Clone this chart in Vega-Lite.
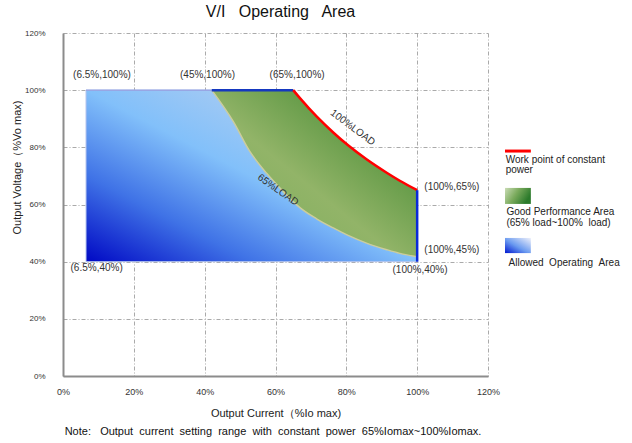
{
  "$schema": "https://vega.github.io/schema/vega-lite/v6.json",
  "width": 425,
  "height": 343,
  "autosize": {"type": "none"},
  "padding": {"left": 63, "top": 33, "right": 144, "bottom": 67},
  "background": "white",
  "config": {
    "view": {"stroke": null},
    "font": "Liberation Sans",
    "text": {"font": "Liberation Sans"},
    "axis": {
      "domainColor": "#8c8c8c",
      "domainWidth": 2,
      "gridColor": "#aaaaaa",
      "gridDash": [4, 2, 1, 2],
      "gridWidth": 1,
      "ticks": false,
      "tickSize": 0,
      "labelFlush": false,
      "labelFont": "Liberation Sans",
      "labelColor": "#333333",
      "titleFont": "Liberation Sans",
      "titleFontWeight": "normal",
      "titleFontSize": 11,
      "titleColor": "#222222"
    }
  },
  "title": {
    "text": "V/I \u00a0 Operating \u00a0 Area",
    "fontSize": 16,
    "font": "Liberation Sans",
    "fontWeight": "normal",
    "color": "#111111",
    "anchor": "middle",
    "frame": "group",
    "offset": 9,
    "dx": 5
  },
  "datasets": {
    "curve": [
      {"I": 6.5, "vmax": 100, "vlow": null, "vmin": 40},
      {"I": 42, "vmax": 100, "vlow": 100, "vmin": 40},
      {"I": 48.1, "vmax": 100, "vlow": 89, "vmin": 40},
      {"I": 52.8, "vmax": 100, "vlow": 78.5, "vmin": 40},
      {"I": 57.5, "vmax": 100, "vlow": 70.9, "vmin": 40},
      {"I": 62.2, "vmax": 100, "vlow": 64.5, "vmin": 40},
      {"I": 65, "vmax": 100, "vlow": 61, "vmin": 40},
      {"I": 66.9, "vmax": 97.2, "vlow": 58.9, "vmin": 40},
      {"I": 71.6, "vmax": 90.8, "vlow": 55.0, "vmin": 40},
      {"I": 76.3, "vmax": 85.2, "vlow": 51.8, "vmin": 40},
      {"I": 80.5, "vmax": 80.7, "vlow": 49.2, "vmin": 40},
      {"I": 85.7, "vmax": 75.8, "vlow": 46.5, "vmin": 40},
      {"I": 91.4, "vmax": 71.1, "vlow": 44.2, "vmin": 40},
      {"I": 95.1, "vmax": 68.3, "vlow": 42.9, "vmin": 40},
      {"I": 100, "vmax": 65.0, "vlow": 41.7, "vmin": 40}
    ],
    "labels": [
      {"t": "(6.5%,100%)", "x": 11.0, "y": 105.3},
      {"t": "(45%,100%)", "x": 40.8, "y": 105.3},
      {"t": "(65%,100%)", "x": 66.1, "y": 105.3},
      {"t": "(6.5%,40%)", "x": 9.5, "y": 37.9},
      {"t": "(100%,40%)", "x": 100.8, "y": 37.1},
      {"t": "(100%,65%)", "x": 109.8, "y": 66.1},
      {"t": "(100%,45%)", "x": 109.8, "y": 44.1}
    ],
    "loads": [
      {"t": "100%LOAD", "x": 81.8, "y": 86.9},
      {"t": "65%LOAD", "x": 60.7, "y": 65.1}
    ],
    "legendText": [
      {"t": "Work point of constant", "x": 125.0, "y": 75.6},
      {"t": "power", "x": 125.0, "y": 71.9},
      {"t": "Good Performance Area", "x": 125.2, "y": 57.4},
      {"t": "(65% load~100% \u00a0load)", "x": 125.2, "y": 53.7},
      {"t": "Allowed \u00a0Operating \u00a0Area", "x": 125.8, "y": 39.5}
    ],
    "swatch": [
      {"k": "power", "x": 124.8, "x2": 132.1, "y": 78.7, "y2": 78.7},
      {"k": "good", "x": 124.8, "x2": 132.1, "y": 60.2, "y2": 65.8},
      {"k": "allowed", "x": 124.8, "x2": 132.1, "y": 43.0, "y2": 48.3}
    ],
    "note": [
      {"t": "Note: \u00a0 Output \u00a0current \u00a0setting \u00a0range \u00a0with \u00a0constant \u00a0power \u00a065%Iomax~100%Iomax.", "x": 59.3, "y": -19.6}
    ]
  },
  "encoding": {
    "x": {
      "type": "quantitative",
      "scale": {"domain": [0, 120], "nice": false},
      "axis": {
        "title": "Output Current（%Io max)",
        "values": [0, 20, 40, 60, 80, 100, 120],
        "labelExpr": "datum.value + '%'",
        "labelFontSize": 9,
        "labelPadding": 11,
        "titlePadding": 11
      }
    },
    "y": {
      "type": "quantitative",
      "scale": {"domain": [0, 120], "nice": false},
      "axis": {
        "title": "Output Voltage（%Vo max)",
        "values": [0, 20, 40, 60, 80, 100, 120],
        "labelExpr": "datum.value + '%'",
        "labelFontSize": 8,
        "labelPadding": 18,
        "titlePadding": 2,
        "titleY": 134
      }
    }
  },
  "layer": [
    {
      "data": {"name": "curve"},
      "mark": {
        "type": "area",
        "interpolate": "monotone",
        "stroke": "#b4c4ee",
        "strokeWidth": 1,
        "color": {
          "gradient": "linear", "x1": 0, "y1": 1, "x2": 1, "y2": 0,
          "stops": [
            {"offset": 0, "color": "#0008c4"},
            {"offset": 0.25, "color": "#3f72e6"},
            {"offset": 0.5, "color": "#82c0fa"},
            {"offset": 0.75, "color": "#a9cbf2"},
            {"offset": 1, "color": "#c6d8ee"}
          ]
        }
      },
      "encoding": {
        "x": {"field": "I"},
        "y": {"field": "vmax"},
        "y2": {"field": "vmin"}
      }
    },
    {
      "data": {"name": "curve"},
      "transform": [{"filter": "datum.vlow != null"}],
      "mark": {
        "type": "area",
        "interpolate": "monotone",
        "color": {
          "gradient": "linear", "x1": 0, "y1": 1, "x2": 1, "y2": 0,
          "stops": [
            {"offset": 0, "color": "#78ac58"},
            {"offset": 0.45, "color": "#92b468"},
            {"offset": 0.68, "color": "#6a9e4c"},
            {"offset": 1, "color": "#4a8836"}
          ]
        }
      },
      "encoding": {
        "x": {"field": "I"},
        "y": {"field": "vmax"},
        "y2": {"field": "vlow"}
      }
    },
    {
      "data": {"name": "curve"},
      "transform": [{"filter": "datum.vlow != null"}],
      "mark": {"type": "line", "interpolate": "monotone", "color": "#cccd9c", "strokeWidth": 1.5},
      "encoding": {"x": {"field": "I"}, "y": {"field": "vlow"}}
    },
    {
      "data": {"name": "curve"},
      "transform": [{"filter": "datum.I <= 42"}],
      "mark": {"type": "line", "color": "#98a6e4", "strokeWidth": 1.5},
      "encoding": {"x": {"field": "I"}, "y": {"field": "vmax"}}
    },
    {
      "data": {"name": "curve"},
      "transform": [{"filter": "datum.I >= 42 && datum.I <= 65"}],
      "mark": {"type": "line", "color": "#1538c0", "strokeWidth": 2.5},
      "encoding": {"x": {"field": "I"}, "y": {"field": "vmax"}}
    },
    {
      "data": {"name": "curve"},
      "transform": [{"filter": "datum.I >= 65"}],
      "mark": {"type": "line", "interpolate": "monotone", "color": "#ff0000", "strokeWidth": 2.5},
      "encoding": {"x": {"field": "I"}, "y": {"field": "vmax"}}
    },
    {
      "data": {"name": "curve"},
      "transform": [{"filter": "datum.I == 100"}],
      "mark": {"type": "rule", "color": "#0a2ad8", "strokeWidth": 2.5},
      "encoding": {"x": {"field": "I"}, "y": {"field": "vmin"}, "y2": {"field": "vmax"}}
    },
    {
      "data": {"name": "labels"},
      "mark": {"type": "text", "fontSize": 10, "color": "#333333"},
      "encoding": {"x": {"field": "x"}, "y": {"field": "y"}, "text": {"field": "t"}}
    },
    {
      "data": {"name": "loads"},
      "transform": [{"filter": "datum.t == '100%LOAD'"}],
      "mark": {"type": "text", "fontSize": 10, "color": "#333333", "angle": 37},
      "encoding": {"x": {"field": "x"}, "y": {"field": "y"}, "text": {"field": "t"}}
    },
    {
      "data": {"name": "loads"},
      "transform": [{"filter": "datum.t == '65%LOAD'"}],
      "mark": {"type": "text", "fontSize": 10, "color": "#333333", "angle": 35},
      "encoding": {"x": {"field": "x"}, "y": {"field": "y"}, "text": {"field": "t"}}
    },
    {
      "data": {"name": "swatch"},
      "transform": [{"filter": "datum.k == 'power'"}],
      "mark": {"type": "rule", "color": "#ff0000", "strokeWidth": 3},
      "encoding": {"x": {"field": "x"}, "x2": {"field": "x2"}, "y": {"field": "y"}}
    },
    {
      "data": {"name": "swatch"},
      "transform": [{"filter": "datum.k == 'good'"}],
      "mark": {
        "type": "rect",
        "color": {
          "gradient": "linear", "x1": 0, "y1": 0, "x2": 1, "y2": 0.4,
          "stops": [
            {"offset": 0, "color": "#cadcb6"},
            {"offset": 0.5, "color": "#7aaa5c"},
            {"offset": 1, "color": "#2b7a2b"}
          ]
        }
      },
      "encoding": {"x": {"field": "x"}, "x2": {"field": "x2"}, "y": {"field": "y"}, "y2": {"field": "y2"}}
    },
    {
      "data": {"name": "swatch"},
      "transform": [{"filter": "datum.k == 'allowed'"}],
      "mark": {
        "type": "rect",
        "color": {
          "gradient": "linear", "x1": 0, "y1": 1, "x2": 1, "y2": 0,
          "stops": [
            {"offset": 0, "color": "#0018d0"},
            {"offset": 0.45, "color": "#6a9af0"},
            {"offset": 1, "color": "#eef0fa"}
          ]
        }
      },
      "encoding": {"x": {"field": "x"}, "x2": {"field": "x2"}, "y": {"field": "y"}, "y2": {"field": "y2"}}
    },
    {
      "data": {"name": "legendText"},
      "mark": {"type": "text", "fontSize": 10, "color": "#222222", "align": "left"},
      "encoding": {"x": {"field": "x"}, "y": {"field": "y"}, "text": {"field": "t"}}
    },
    {
      "data": {"name": "note"},
      "mark": {"type": "text", "fontSize": 11, "color": "#111111"},
      "encoding": {"x": {"field": "x"}, "y": {"field": "y"}, "text": {"field": "t"}}
    }
  ]
}
